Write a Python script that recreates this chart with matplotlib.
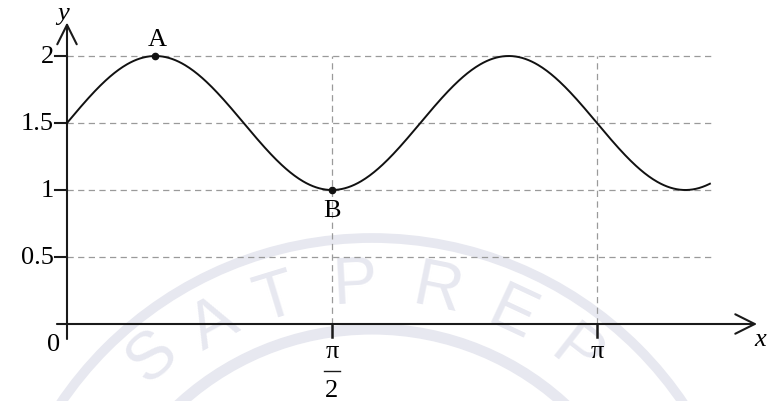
# Graph of y = 1.5 + 0.5 sin(3x) with the points A (maximum) and B (minimum)

import numpy as np
import matplotlib.pyplot as plt
from matplotlib.patches import Circle

# Kennwerte der Kurve
mittellinie = 1.5
amplitude = 0.5
punkt_A = (np.pi / 6, 2.0)
punkt_B = (np.pi / 2, 1.0)
x_ende = 1.213 * np.pi

# Achsenbeschriftungen
y_ticks = [0.5, 1.0, 1.5, 2.0]
y_tick_labels = ['0.5', '1', '1.5', '2']
x_ticks = [np.pi / 2, np.pi]
x_grid_ende = 1.219 * np.pi

# Wasserzeichen
wz_buchstaben = ['S', 'A', 'T', 'P', 'R', 'E', 'P']
wz_winkel = [40.5, 28.5, 17, 3, -11.5, -25, -38]
wz_radius = [338, 330, 330, 330, 330, 330, 330]

serif = 'Liberation Serif'
grau = '#9a9a9a'
wz_farbe = '#e7e8f0'

fig = plt.figure(figsize=(7.71, 4.02), dpi=100)

# Hintergrund mit Wasserzeichen, in Pixelkoordinaten
bg = fig.add_axes([0, 0, 1, 1])
bg.set_xlim(0, 771)
bg.set_ylim(402, 0)
bg.axis('off')
cx, cy = 372, 615
bg.add_patch(Circle((cx, cy), 376, fill=False, lw=7, ec=wz_farbe))
bg.add_patch(Circle((cx, cy), 285, fill=False, lw=8, ec=wz_farbe))
for b, w, r in zip(wz_buchstaben, wz_winkel, wz_radius):
    t = np.deg2rad(w)
    bg.text(cx - r * np.sin(t), cy - r * np.cos(t), b, rotation=w,
            ha='center', va='center', fontsize=48, color=wz_farbe,
            family='Liberation Sans', rotation_mode='anchor')

# Diagramm
ax = fig.add_axes([0, 0, 1, 1])
ax.patch.set_alpha(0)
ax.axis('off')
ax.set_xlim(-67 / 530 * np.pi, 704 / 530 * np.pi)
ax.set_ylim(-77 / 134, 325 / 134)

# Hilfslinien
for yt in y_ticks:
    ax.plot([0, x_grid_ende], [yt, yt], color=grau, lw=0.9, ls=(0, (5, 3.5)), zorder=1)
for xt in x_ticks:
    ax.plot([xt, xt], [0, 2.0], color=grau, lw=0.9, ls=(0, (5, 3.5)), zorder=1)

# Achsen mit Pfeilen
pfeil = dict(arrowstyle='->,head_length=0.7,head_width=0.35', lw=1.5,
             color='#1a1a1a', shrinkA=0, shrinkB=0, mutation_scale=20)
ax.annotate('', xy=(1.302 * np.pi, 0), xytext=(-0.019 * np.pi, 0),
            arrowprops=pfeil, zorder=3)
ax.annotate('', xy=(0, 2.25), xytext=(0, -0.112), arrowprops=pfeil, zorder=3)

# Teilstriche
dx = 12 / 530 * np.pi
for yt, lab in zip(y_ticks, y_tick_labels):
    ax.plot([-dx, 0], [yt, yt], color='#1a1a1a', lw=1.5, zorder=3)
    ax.text(-dx - 0.005, yt, lab, ha='right', va='center', fontsize=19, family=serif)
for xt in x_ticks:
    ax.plot([xt, xt], [0, -13 / 134], color='#1a1a1a', lw=1.8, zorder=3)

ax.text(-0.08, -0.15, '0', ha='center', va='center', fontsize=19, family=serif)
ax.text(x_ticks[1], -0.2, 'π', ha='center', va='center', fontsize=19, family=serif)
ax.text(x_ticks[0], -0.2, 'π', ha='center', va='center', fontsize=19, family=serif)
ax.plot([x_ticks[0] - 0.045, x_ticks[0] + 0.045], [-0.35, -0.35], color='#1a1a1a', lw=1.0)
ax.text(x_ticks[0], -0.49, '2', ha='center', va='center', fontsize=19, family=serif)
ax.text(1.308 * np.pi, -0.115, 'x', ha='center', va='center', fontsize=19,
        family=serif, style='italic')
ax.text(-0.025, 2.32, 'y', ha='center', va='center', fontsize=19,
        family=serif, style='italic')

# Kurve
k = np.pi / 2 / (punkt_A[0])  # Frequenz aus der Lage des Maximums
x = np.linspace(0, x_ende, 600)
y = mittellinie + amplitude * np.sin(k * x)
ax.plot(x, y, color='#111111', lw=1.4, zorder=4)

# Punkte A und B
ax.plot([punkt_A[0], punkt_B[0]], [punkt_A[1], punkt_B[1]], 'o', color='#111111',
        ms=4.5, zorder=5)
ax.text(punkt_A[0] + 0.01, punkt_A[1] + 0.13, 'A', ha='center', va='center',
        fontsize=19, family=serif)
ax.text(punkt_B[0], punkt_B[1] - 0.15, 'B', ha='center', va='center',
        fontsize=19, family=serif)

plt.savefig('out.png', dpi=100)
